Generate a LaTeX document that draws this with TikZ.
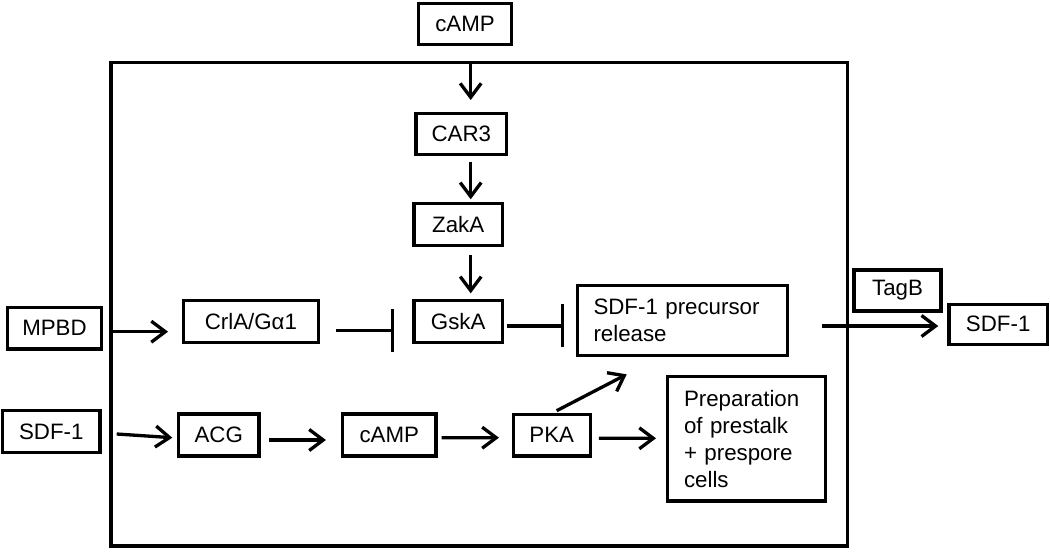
\documentclass[tikz,border=0pt]{standalone}
\usepackage{fontspec}
\setmainfont{Liberation Sans}
\usetikzlibrary{arrows.meta,calc}
\begin{document}
\begin{tikzpicture}[x=1bp,y=-1bp,
  box/.style={draw,line width=3.3bp,inner sep=0pt,font=\fontsize{22.3bp}{27bp}\selectfont},
  arr/.style={line width=3.3bp,-{Straight Barb[length=14bp,width=21bp]}},
  inh/.style={line width=3.3bp,-{Bar[width=43bp]}}]
\useasboundingbox (0,0) rectangle (1050,559);
% frame
\node[draw,line width=3.3bp,inner sep=0pt,outer sep=0pt,minimum width=736.7bp,minimum height=483.3bp] (frame) at (479.35,304.35) {};
% nodes
\node[box,minimum width=93.3bp,minimum height=40.7bp] (camptop) at (465,24) {cAMP};
\node[box,minimum width=90.7bp,minimum height=41bp] (car3) at (461.3,133.9) {CAR3};
\node[box,minimum width=88.4bp,minimum height=42.3bp] (zaka) at (458.2,224.5) {ZakA};
\node[box,minimum width=88.4bp,minimum height=42bp] (gska) at (458.2,321.7) {GskA};
\node[box,minimum width=135bp,minimum height=42bp] (crla) at (250.9,321.7) {CrlA/Gα1};
\node[box,minimum width=93.7bp,minimum height=41.7bp] (mpbd) at (54.5,328.2) {MPBD};
\node[box,minimum width=97.4bp,minimum height=42bp] (sdfL) at (51.3,431.7) {SDF-1};
\node[box,minimum width=80.7bp,minimum height=42.1bp] (acg) at (218.7,435) {ACG};
\node[box,minimum width=93.4bp,minimum height=42.1bp] (campm) at (389.3,435) {cAMP};
\node[box,minimum width=77bp,minimum height=41.7bp] (pka) at (551.8,435.2) {PKA};
\node[box,minimum width=210.3bp,minimum height=70bp,text width=178bp,align=left] (prec) at (682.5,320.7) {SDF-1 precursor\\release};
\node[box,minimum width=158bp,minimum height=124.4bp,text width=125.4bp,align=left] (prep) at (746.7,438.8) {Preparation\\of prestalk\\+ prespore\\cells};
\node[box,minimum width=87.1bp,minimum height=41.1bp] (tagb) at (897.5,290.5) {TagB};
\node[box,minimum width=98.2bp,minimum height=40.2bp] (sdfR) at (998.2,324.3) {SDF-1};
% frame coordinates
\coordinate (ft) at (470.7,62.7);
\coordinate (fl1) at (111,331.7);
\coordinate (fl2) at (116.7,434);
% connectors
\draw[arr,shorten >=11.7bp] (ft) -- (ft |- car3.north);
\draw[arr,shorten <=5.7bp,shorten >=2.4bp] (car3.south -| ft) -- (zaka.north -| ft);
\draw[arr,shorten <=7.7bp,shorten >=5.7bp] (zaka.south -| ft) -- (gska.north -| ft);
\draw[arr,shorten <=2bp,shorten >=13.7bp] (fl1) -- (fl1 -| crla.west);
\draw[inh] ([shift={(16,9)}]crla.east) -- ([shift={(-18,9)}]gska.west);
\draw[inh] ([shift={(2.7,4.3)}]gska.east) -- ([shift={(-11.7,5.3)}]prec.west);
\draw[arr] ([shift={(33,5.3)}]prec.east) -- ([shift={(-9.2,1.7)}]sdfR.west);
\draw[arr] (fl2) -- ([shift={(-4.4,2.7)}]acg.west);
\draw[arr] ([shift={(8.6,5)}]acg.east) -- ([shift={(-15,5)}]campm.west);
\draw[arr] ([shift={(4,2.7)}]campm.east) -- ([shift={(-12.7,2.5)}]pka.west);
\draw[arr] ([shift={(7,3.1)}]pka.east) -- ([shift={(-10,-0.5)}]prep.west);
\draw[arr] ([shift={(4.9,-2)}]pka.north) -- ([shift={(-55.8,17)}]prec.south);
\end{tikzpicture}
\end{document}
